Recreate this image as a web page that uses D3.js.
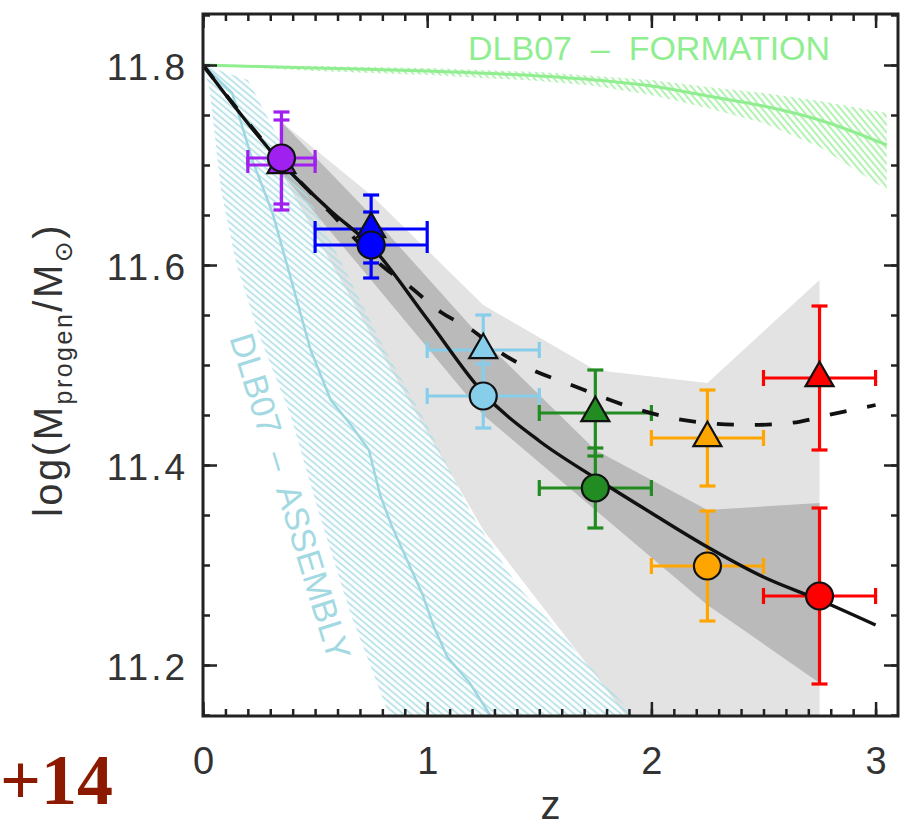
<!DOCTYPE html>
<html>
<head>
<meta charset="utf-8">
<script src="https://cdn.jsdelivr.net/npm/d3@7"></script>
<style>
  body { margin: 0; background: #fff; }
  svg text { font-family: "Liberation Sans", Arial, "DejaVu Sans", sans-serif; }
</style>
</head>
<body>
<div id="grafica"></div>
<script>
const width = 921, height = 828;
const margin = { top: 14, right: 23, bottom: 112, left: 203 };
const w = width - margin.left - margin.right;
const h = height - margin.top - margin.bottom;

// redshift bins of the measurements
const binZ = [0.35, 0.75, 1.25, 1.75, 2.25, 2.75];
const binLo = [0.2, 0.5, 1.0, 1.5, 2.0, 2.5];
const binHi = [0.5, 1.0, 1.5, 2.0, 2.5, 3.0];
const binColor = ["#a020f0", "#0000ff", "#87ceeb", "#228b22", "#ffa500", "#ff0000"];

// circles and triangles (log mass, error)
const circMass = [11.707, 11.620, 11.469, 11.377, 11.299, 11.269];
const circErr = [0.046, 0.033, 0.032, 0.040, 0.055, 0.088];
const triMass = [11.700, 11.636, 11.515, 11.452, 11.427, 11.487];
const triErr = [0.045, 0.034, 0.035, 0.043, 0.048, 0.072];

// grey bands
const darkHi = [11.743, 11.650, 11.525, 11.415, 11.355, 11.362];
const darkLo = [11.692, 11.585, 11.450, 11.355, 11.260, 11.182];
const lightHi = [11.743, 11.670, 11.560, 11.495, 11.482, 11.585];
const lightLo = [11.692, 11.530, 11.335, 11.190, 11.040, 10.900];

// solid fit
const fitZ = [0, 0.35, 0.57, 0.75, 1.0, 1.25, 1.5, 1.75, 2.0, 2.25, 2.5, 2.75, 3.0];
const fitMass = [11.800, 11.702, 11.654, 11.619, 11.546, 11.472, 11.424, 11.387, 11.352, 11.318, 11.288, 11.265, 11.240];

// dashed fit
const dashZ = [0, 0.35, 0.57, 0.80, 0.93, 1.06, 1.20, 1.33, 1.47, 1.62, 1.92, 2.07, 2.25, 2.44, 2.62, 2.79, 3.0];
const dashMass = [11.800, 11.703, 11.652, 11.599, 11.577, 11.553, 11.535, 11.512, 11.495, 11.482, 11.457, 11.448, 11.442, 11.440, 11.442, 11.450, 11.460];

// DLB07 formation (green)
const formZ = [0, 0.5, 1.0, 1.5, 1.75, 2.0, 2.25, 2.5, 2.75, 3.05];
const formMass = [11.800, 11.797, 11.794, 11.789, 11.785, 11.779, 11.769, 11.759, 11.745, 11.720];
const formLo = [11.800, 11.794, 11.790, 11.784, 11.779, 11.770, 11.757, 11.742, 11.718, 11.675];
const formHi = [11.800, 11.799, 11.797, 11.793, 11.789, 11.785, 11.778, 11.772, 11.764, 11.752];

// DLB07 assembly (cyan)
const asmZ = [0, 0.13, 0.22, 0.31, 0.39, 0.48, 0.57, 0.66, 0.74, 0.79, 0.84, 0.92, 0.98, 1.03, 1.09, 1.19, 1.28];
const asmMass = [11.800, 11.772, 11.705, 11.652, 11.588, 11.515, 11.465, 11.440, 11.415, 11.370, 11.340, 11.300, 11.270, 11.238, 11.208, 11.182, 11.150];
const asmLeftZ = [0, 0.03, 0.08, 0.15, 0.25, 0.39, 0.52, 0.66, 0.80, 0.83];
const asmLeftMass = [11.800, 11.775, 11.675, 11.600, 11.530, 11.450, 11.350, 11.250, 11.168, 11.150];
const asmRightZ = [0, 0.2, 0.4, 0.6, 0.8, 1.0, 1.2, 1.4, 1.6, 1.8, 1.92];
const asmRightMass = [11.800, 11.785, 11.700, 11.610, 11.520, 11.440, 11.350, 11.280, 11.230, 11.180, 11.150];

// axis ticks
const xMajor = [0, 1, 2, 3];
const yMajor = [11.2, 11.4, 11.6, 11.8];

const x = d3.scaleLinear().domain([0, 3.1]).range([0, w]);
const y = d3.scaleLinear().domain([11.149, 11.851]).range([h, 0]);

const svg = d3.select("#grafica")
  .append("svg")
  .attr("width", width)
  .attr("height", height);

const defs = svg.append("defs");

defs.append("clipPath").attr("id", "caja")
  .append("rect").attr("width", w).attr("height", h);

// hatch patterns
function hatch(id, color, angle) {
  defs.append("pattern")
    .attr("id", id)
    .attr("patternUnits", "userSpaceOnUse")
    .attr("width", 5).attr("height", 5)
    .attr("patternTransform", `rotate(${angle})`)
    .append("line")
    .attr("x1", -1).attr("y1", 2.5).attr("x2", 6).attr("y2", 2.5)
    .attr("stroke", color)
    .attr("stroke-width", 1.6);
}
hatch("rayaCian", "#a9dde5", 40);
hatch("rayaVerde", "#9cee9c", 50);

const g = svg.append("g")
  .attr("transform", `translate(${margin.left},${margin.top})`);

const plot = g.append("g").attr("clip-path", "url(#caja)");

// grey bands
const band = d3.area()
  .x(d => x(d.z))
  .y0(d => y(d.lo))
  .y1(d => y(d.hi));

plot.append("path")
  .attr("d", band(binZ.map((z, i) => ({ z, lo: lightLo[i], hi: lightHi[i] }))))
  .attr("fill", "#e3e3e3");

plot.append("path")
  .attr("d", band(binZ.map((z, i) => ({ z, lo: darkLo[i], hi: darkHi[i] }))))
  .attr("fill", "#bababa");

// assembly hatch: left edge down, right edge back up
const asmPoly = asmLeftZ.map((z, i) => [x(z), y(asmLeftMass[i])])
  .concat(asmRightZ.map((z, i) => [x(z), y(asmRightMass[i])]).reverse());
plot.append("path")
  .attr("d", "M" + asmPoly.join("L") + "Z")
  .attr("fill", "url(#rayaCian)");

// formation hatch
plot.append("path")
  .attr("d", band(formZ.map((z, i) => ({ z, lo: formLo[i], hi: formHi[i] }))))
  .attr("fill", "url(#rayaVerde)");

const line = d3.line()
  .x(d => x(d[0]))
  .y(d => y(d[1]));

plot.append("path")
  .attr("d", line(asmZ.map((z, i) => [z, asmMass[i]])))
  .attr("fill", "none")
  .attr("stroke", "#9fd7e0")
  .attr("stroke-width", 2.5);

plot.append("path")
  .attr("d", line.curve(d3.curveMonotoneX)(formZ.map((z, i) => [z, formMass[i]])))
  .attr("fill", "none")
  .attr("stroke", "#90ee90")
  .attr("stroke-width", 3);

// error bars
function errorBars(mass, err) {
  const eb = plot.append("g");
  binZ.forEach((z, i) => {
    const c = binColor[i];
    const cx = x(z), cy = y(mass[i]);
    const yt = y(mass[i] + err[i]), yb = y(mass[i] - err[i]);
    const xl = x(binLo[i]), xr = x(binHi[i]);
    const seg = [
      [cx, yt, cx, yb], [cx - 8, yt, cx + 8, yt], [cx - 8, yb, cx + 8, yb],
      [xl, cy, xr, cy], [xl, cy - 8, xl, cy + 8], [xr, cy - 8, xr, cy + 8]
    ];
    eb.selectAll(null)
      .data(seg)
      .enter()
      .append("line")
      .attr("x1", d => d[0]).attr("y1", d => d[1])
      .attr("x2", d => d[2]).attr("y2", d => d[3])
      .attr("stroke", c)
      .attr("stroke-width", 3.2);
  });
}

errorBars(triMass, triErr);
errorBars(circMass, circErr);

// fits
plot.append("path")
  .attr("d", line.curve(d3.curveMonotoneX)(dashZ.map((z, i) => [z, dashMass[i]])))
  .attr("fill", "none")
  .attr("stroke", "#111")
  .attr("stroke-width", 3.8)
  .attr("stroke-dasharray", "17,21");

plot.append("path")
  .attr("d", line.curve(d3.curveMonotoneX)(fitZ.map((z, i) => [z, fitMass[i]])))
  .attr("fill", "none")
  .attr("stroke", "#111")
  .attr("stroke-width", 3.4);

// markers
plot.selectAll(".tri")
  .data(binZ)
  .enter()
  .append("path")
  .attr("class", "tri")
  .attr("d", d3.symbol(d3.symbolTriangle, 340))
  .attr("transform", (d, i) => `translate(${x(d)},${y(triMass[i])})`)
  .attr("fill", (d, i) => binColor[i])
  .attr("stroke", "#111")
  .attr("stroke-width", 2.2);

plot.selectAll(".circ")
  .data(binZ)
  .enter()
  .append("circle")
  .attr("class", "circ")
  .attr("cx", d => x(d))
  .attr("cy", (d, i) => y(circMass[i]))
  .attr("r", 13.5)
  .attr("fill", (d, i) => binColor[i])
  .attr("stroke", "#111")
  .attr("stroke-width", 2.2);

// model labels
g.append("text")
  .attr("x", 265)
  .attr("y", 46)
  .style("white-space", "pre")
  .style("font-size", "34px")
  .attr("fill", "#90ee90")
  .text("DLB07  \u2013  FORMATION");

g.append("text")
  .attr("transform", `translate(${279 - margin.left},${500 - margin.top}) rotate(73)`)
  .attr("text-anchor", "middle")
  .style("white-space", "pre")
  .style("font-size", "34px")
  .attr("fill", "#a3d9e2")
  .text("DLB07  \u2013  ASSEMBLY");

// axes: major + minor ticks on all four sides
function styleAxis(sel) {
  sel.select(".domain").remove();
  sel.selectAll("line").attr("stroke", "#222").attr("stroke-width", 2.5);
  sel.selectAll("text")
    .attr("fill", "#333")
    .style("font-size", "38px")
    .attr("font-family", null);
}

const xMinor = d3.range(0, 31).map(d => d / 10);
const yMinor = d3.range(0, 15).map(d => 11.15 + d * 0.05);

g.append("g").attr("transform", `translate(0,${h})`)
  .call(d3.axisBottom(x).tickValues(xMinor).tickSize(-7).tickFormat(""))
  .call(styleAxis);
g.append("g").attr("transform", `translate(0,${h})`)
  .call(d3.axisBottom(x).tickValues(xMajor).tickSize(-14).tickPadding(31).tickFormat(d3.format("d")))
  .call(styleAxis);
g.append("g")
  .call(d3.axisTop(x).tickValues(xMinor).tickSize(-7).tickFormat(""))
  .call(styleAxis);
g.append("g")
  .call(d3.axisTop(x).tickValues(xMajor).tickSize(-14).tickFormat(""))
  .call(styleAxis);

g.append("g")
  .call(d3.axisLeft(y).tickValues(yMinor).tickSize(-7).tickFormat(""))
  .call(styleAxis);
const yAxis = g.append("g")
  .call(d3.axisLeft(y).tickValues(yMajor).tickSize(-14).tickPadding(15).tickFormat(d3.format(".1f")))
  .call(styleAxis);
yAxis.selectAll("text")
  .attr("dy", "0.4em")
  .style("font-size", "37px")
  .style("letter-spacing", "3px");
g.append("g").attr("transform", `translate(${w},0)`)
  .call(d3.axisRight(y).tickValues(yMinor).tickSize(-7).tickFormat(""))
  .call(styleAxis);
g.append("g").attr("transform", `translate(${w},0)`)
  .call(d3.axisRight(y).tickValues(yMajor).tickSize(-14).tickFormat(""))
  .call(styleAxis);

// frame
g.append("rect")
  .attr("width", w)
  .attr("height", h)
  .attr("fill", "none")
  .attr("stroke", "#222")
  .attr("stroke-width", 3);

// axis titles
svg.append("text")
  .attr("x", margin.left + w / 2)
  .attr("y", 819)
  .attr("text-anchor", "middle")
  .attr("fill", "#333")
  .style("font-size", "40px")
  .text("z");

const yLabel = svg.append("text")
  .attr("transform", "translate(62,370) rotate(-90)")
  .attr("text-anchor", "middle")
  .attr("fill", "#333")
  .style("font-size", "40px")
  .style("letter-spacing", "2.5px");
yLabel.append("tspan").text("log(M");
yLabel.append("tspan").attr("dy", 10).style("font-size", "25px").text("progen");
yLabel.append("tspan").attr("dy", -10).text("/M");
yLabel.append("tspan").attr("dy", 10).style("font-size", "25px").text("\u2299");
yLabel.append("tspan").attr("dy", -10).text(")");

// panel tag
svg.append("text")
  .attr("x", 0)
  .attr("y", 804)
  .style("font-family", "'Liberation Serif', 'Times New Roman', serif")
  .style("font-weight", "bold")
  .style("font-size", "72px")
  .attr("fill", "#8b1a00")
  .text("+14");
</script>
</body>
</html>
